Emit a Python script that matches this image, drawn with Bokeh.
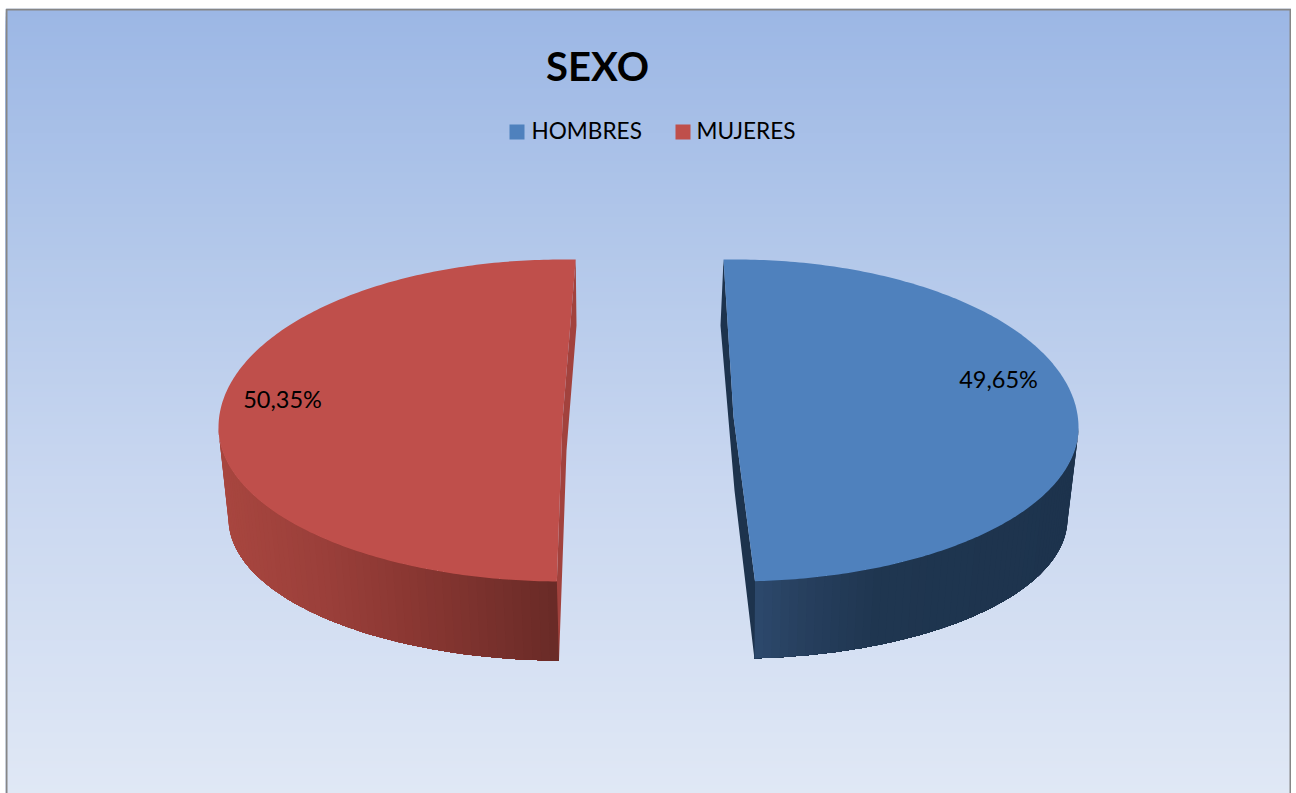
import numpy as np
from bokeh.plotting import figure
from bokeh.models import Range1d
from bokeh.core.properties import value
from bokeh.embed import file_html
from bokeh.resources import INLINE

TITLE = "SEXO"
categories = ["HOMBRES", "MUJERES"]
shares = [49.65, 50.35]
top_colors = ["#4F81BD", "#BF4F4B"]
cut_colors = ["#1D334D", "#A2423D"]

X0, Y0, W, H = 5, 8, 1286, 785

p = figure(width=W, height=H, output_backend="svg", toolbar_location=None,
           x_range=Range1d(X0, X0 + W), y_range=Range1d(Y0 + H, Y0),
           x_axis_type=None, y_axis_type=None, min_border=0,
           outline_line_color=None, background_fill_color="white",
           border_fill_color="white", margin=(8, 0, 0, 5))
p.grid.visible = False


def mix(stops, t):
    xs = [s[0] for s in stops]
    rgb = [np.interp(t, xs, [int(s[1][i:i + 2], 16) for s in stops]) for i in (1, 3, 5)]
    return "#%02x%02x%02x" % tuple(int(round(c)) for c in rgb)


# background gradient: each band runs to the bottom, so later bands paint over earlier ones
bg_stops = [(8, "#9CB7E5"), (250, "#B3C8EA"), (480, "#C9D7F0"), (793, "#E0E8F5")]
edges = np.arange(Y0, Y0 + H, 4)
p.quad(left=X0, right=X0 + W, top=edges, bottom=Y0 + H,
       fill_color=[mix(bg_stops, e) for e in edges],
       line_color=None)

# frame
p.line([X0 + 1, X0 + 1, X0 + W - 1, X0 + W - 1], [Y0 + H, Y0 + 1, Y0 + 1, Y0 + H],
       line_color="#868686", line_width=2)

# pie geometry: top ellipse and (perspective-reduced) bottom ellipse for each slice
TOP_CY, TOP_RY_UP, TOP_RY_DOWN = 427, 168, 154
BOT_CY = 518


def rim(a, cx, rx, cy, ry_up, ry_down):
    a = np.radians(a)
    s = np.sin(a)
    return cx + rx * np.cos(a), cy - np.where(s > 0, ry_up, ry_down) * s


slices = {
    "HOMBRES": dict(start=92.0, sign=-1, cx=735, rx=343, bx=735, brx=332, bry=140,
                    apex=(733, 416),
                    cut_outer=[(720, 325), (734, 490)],
                    side_from=0.0,
                    side=[(0, "#2D4A6E"), (0.15, "#27405F"), (0.4, "#1F3650"), (1, "#1D334D")]),
    "MUJERES": dict(start=87.8, sign=1, cx=562, rx=344, bx=564, brx=336, bry=142,
                    apex=(562, 420),
                    cut_outer=[(576, 325), (566, 450)],
                    side_from=180.0,
                    side=[(0, "#682A26"), (0.2, "#77302C"), (0.45, "#8A3732"), (0.7, "#9A3F3A"), (1, "#A8463F")]),
}

for name, share, top_c, cut_c in zip(categories, shares, top_colors, cut_colors):
    g = slices[name]
    start = g["start"]
    end = start + g["sign"] * share / 100 * 360

    # outer wall: nested bands, each reaching the cut, so no seams show
    ang = np.linspace(g["side_from"], end, 60)
    tx, ty = rim(ang, g["cx"], g["rx"], TOP_CY, TOP_RY_UP, TOP_RY_DOWN)
    bx, by = rim(ang, g["bx"], g["brx"], BOT_CY, g["bry"], g["bry"])
    span = max(bx) - min(bx)
    xs, ys, cols = [], [], []
    for i in range(len(ang) - 1):
        xs.append(list(tx[i:]) + list(bx[i:][::-1]))
        ys.append(list(ty[i:]) + list(by[i:][::-1]))
        cols.append(mix(g["side"], abs(bx[i] - bx[-1]) / span))
    p.patches(xs, ys, fill_color=cols, line_color=None)

    # cut face
    sx, sy = rim(np.array([start]), g["cx"], g["rx"], TOP_CY, TOP_RY_UP, TOP_RY_DOWN)
    ex, ey = rim(np.array([end]), g["cx"], g["rx"], TOP_CY, TOP_RY_UP, TOP_RY_DOWN)
    ebx, eby = rim(np.array([end]), g["bx"], g["brx"], BOT_CY, g["bry"], g["bry"])
    cx_ = [sx[0]] + [c[0] for c in g["cut_outer"]] + [ebx[0], ex[0], g["apex"][0]]
    cy_ = [sy[0]] + [c[1] for c in g["cut_outer"]] + [eby[0], ey[0], g["apex"][1]]
    p.patch(cx_, cy_, fill_color=cut_c, line_color=None)

    # top face
    ang = np.linspace(start, end, 240)
    fx, fy = rim(ang, g["cx"], g["rx"], TOP_CY, TOP_RY_UP, TOP_RY_DOWN)
    p.patch(list(fx) + [g["apex"][0]], list(fy) + [g["apex"][1]],
            fill_color=top_c, line_color=None)

# value labels
label_x = [998, 282]
label_y = [378, 398]
p.text(label_x, label_y, text=[f"{v:.2f}%".replace(".", ",") for v in shares],
       text_font=value("Lato"), text_font_size="23.5px", text_color="#000000",
       text_align="center", text_baseline="middle")

# title
p.text([597], [65.5], text=[TITLE], text_font=value("Lato"), text_font_style="bold",
       text_font_size="40px", text_color="#000000", text_align="center", text_baseline="middle")

# legend
p.scatter([516.5, 682.5], [131.5, 131.5], marker="square", size=15,
          fill_color=top_colors, line_color=None)
p.text([531, 696], [130, 130], text=categories, text_font=value("Lato"), text_font_size="22.6px",
       text_color="#000000", text_align="left", text_baseline="middle")

open("out.html", "w").write(file_html(p, INLINE))
